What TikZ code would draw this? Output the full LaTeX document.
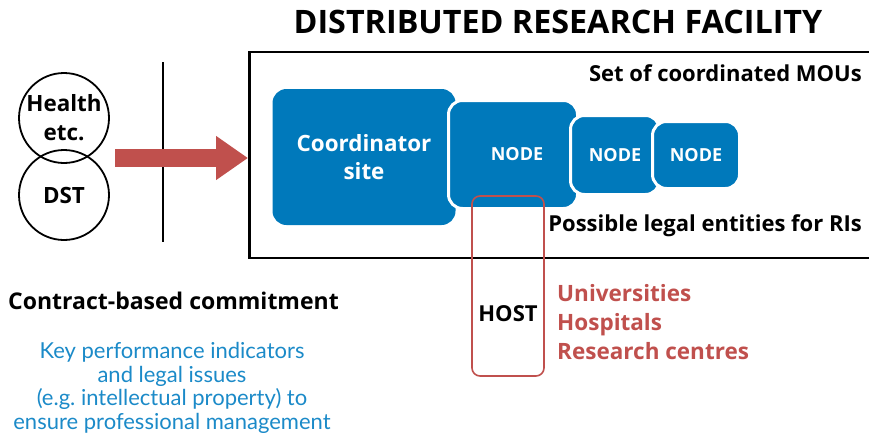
\documentclass[tikz,border=0pt]{standalone}
\usepackage{fontspec}
\setmainfont{Open Sans}
\newfontfamily\kpifont{Lato}
\usetikzlibrary{arrows.meta}
\definecolor{riblue}{HTML}{0079BB}
\definecolor{rired}{HTML}{C0504D}
\definecolor{kpiblue}{HTML}{1B8AC8}
\begin{document}
\begin{tikzpicture}[x=1pt, y=-1pt,
    siteStyle/.style={rectangle, rounded corners=14pt, fill=riblue, draw=white, line width=3pt, text=white, font=\bfseries\fontsize{18}{20}\selectfont, align=center, inner sep=0pt},
    circleStyle/.style={circle, draw, line width=1.8pt, minimum size=90pt, inner sep=0pt, align=center, font=\bfseries\fontsize{22.4}{29}\selectfont},
    labelStyle/.style={inner sep=0pt, font=\bfseries\fontsize{22}{24}\selectfont}]
    \useasboundingbox (0,0) rectangle (869,437);
    \clip (0,0) rectangle (869,437);

    \node[inner sep=0pt, font=\bfseries\fontsize{32.3}{36}\selectfont] (title) at (558,22) {DISTRIBUTED RESEARCH FACILITY};
    \node[draw, line width=2.5pt, minimum width=640pt, minimum height=206pt, anchor=west, inner sep=0pt] (facility) at (248,155) {};
    \node[labelStyle, anchor=east] (mous) at (862,73) {Set of coordinated MOUs};
    \node[labelStyle, anchor=east] (legal) at (862,226) {Possible legal entities for RIs};

    \node[siteStyle, draw=none, minimum width=183pt, minimum height=136pt, font=\bfseries\fontsize{22.4}{28}\selectfont] (coord) at (364,157) {Coordinator\\site};
    \node[siteStyle, minimum width=129pt, minimum height=108pt] (node1) at (513,154.5) {\hspace{8pt}NODE};
    \node[siteStyle, minimum width=89pt, minimum height=79pt] (node2) at (615,155) {NODE};
    \node[siteStyle, minimum width=87pt, minimum height=67pt] (node3) at (696,155) {NODE};

    \node[rectangle, rounded corners=8pt, draw=rired, line width=1.6pt, minimum width=72pt, minimum height=180pt, inner sep=0pt] (hostbox) at (508,286) {};
    \node[labelStyle] (host) at (508,314) {HOST};
    \node[labelStyle, text=rired, anchor=west, align=left, font=\bfseries\fontsize{22.5}{29}\selectfont] (hosts) at (557,322) {Universities\\Hospitals\\Research centres};

    \node[circleStyle] (health) at (64,118) {Health\\etc.};
    \node[circleStyle] (dst) at (64,195) {DST};
    \draw[line width=1.2pt] (163,62) -- (163,242);
    \coordinate (arrowtail) at (115,158);
    \draw[rired, line width=18pt, -{Triangle[length=32pt, width=42pt]}] (arrowtail) -- (arrowtail -| facility.west);

    \node[labelStyle, anchor=west, font=\bfseries\fontsize{23}{24}\selectfont] (contract) at (8,301) {Contract-based commitment};
    \node[inner sep=0pt, text=kpiblue, align=center, font=\kpifont\fontsize{22}{23.5}\selectfont] (kpi) at (172,388) {Key performance indicators\\and legal issues\\(e.g.\ intellectual property) to\\ensure professional management};
\end{tikzpicture}
\end{document}
